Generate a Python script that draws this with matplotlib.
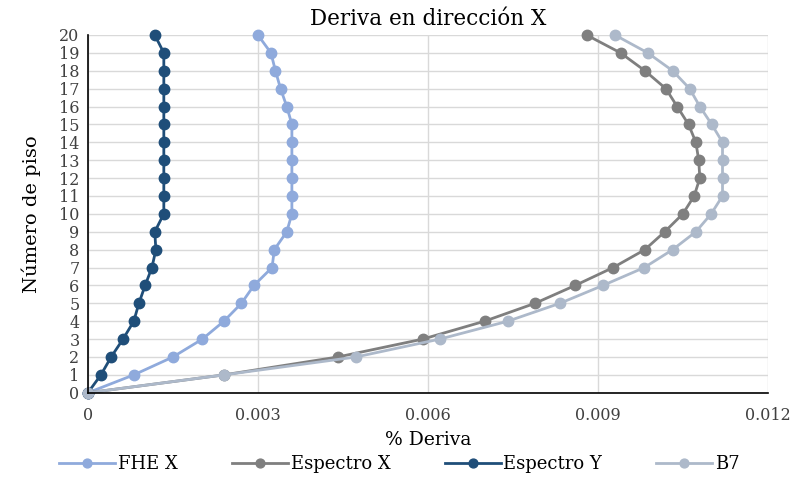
import numpy as np
import matplotlib.pyplot as plt

plt.rcParams['font.family'] = ['DejaVu Serif']

pisos = np.arange(0, 21)

# deriva por piso, piso 0 a 20
fhe_x = [0, 0.00081, 0.00150, 0.00202, 0.00240, 0.00271, 0.00293, 0.00325, 0.00329, 0.00351,
         0.00360, 0.00360, 0.00360, 0.00360, 0.00360, 0.00360, 0.00351, 0.00340, 0.00331, 0.00323, 0.00300]
espectro_x = [0, 0.00240, 0.00441, 0.00591, 0.00700, 0.00789, 0.00860, 0.00927, 0.00983, 0.01018,
              0.01050, 0.01070, 0.01080, 0.01078, 0.01073, 0.01060, 0.01040, 0.01020, 0.00983, 0.00940, 0.00880]
espectro_y = [0, 0.00023, 0.00041, 0.00062, 0.00081, 0.00090, 0.00101, 0.00113, 0.00120, 0.00118,
              0.00134, 0.00134, 0.00134, 0.00134, 0.00134, 0.00134, 0.00134, 0.00134, 0.00134, 0.00134, 0.00118]
b7 = [0, 0.00240, 0.00473, 0.00621, 0.00741, 0.00833, 0.00909, 0.00982, 0.01032, 0.01073,
      0.01100, 0.01120, 0.01120, 0.01120, 0.01120, 0.01101, 0.01080, 0.01062, 0.01032, 0.00988, 0.00930]

series = [
    ("FHE X", fhe_x, "#8faadc"),
    ("Espectro X", espectro_x, "#7f7f7f"),
    ("Espectro Y", espectro_y, "#1f4e79"),
    ("B7", b7, "#adb9ca"),
]

fig = plt.figure(figsize=(7.99, 4.79), dpi=100)
ax = fig.add_axes([0.110, 0.180, 0.851, 0.747])

for name, vals, col in series:
    ax.plot(vals, pisos, color=col, lw=2.0, marker='o', ms=7.5, label=name, clip_on=False)

ax.set_xlim(0, 0.012)
ax.set_ylim(0, 20)
ax.set_xticks([0, 0.003, 0.006, 0.009, 0.012])
ax.set_xticklabels(["0", "0.003", "0.006", "0.009", "0.012"])
ax.set_yticks(pisos)
ax.grid(True, color="#d9d9d9", lw=1.0)
ax.set_axisbelow(True)
for s in ["top", "right"]:
    ax.spines[s].set_visible(False)
for s in ["left", "bottom"]:
    ax.spines[s].set_color("black")
    ax.spines[s].set_linewidth(1.2)
ax.tick_params(length=0, labelsize=11.5, colors="#404040")
ax.tick_params(axis='x', pad=10)
ax.tick_params(axis='y', pad=6)

ax.set_title("Deriva en dirección X", fontsize=15.5, pad=7)
ax.set_xlabel("% Deriva", fontsize=13.5, labelpad=5)
ax.set_ylabel("Número de piso", fontsize=14, labelpad=13)

fig.legend(loc="lower center", ncol=4, bbox_to_anchor=(0.5, -0.022), frameon=False,
           fontsize=13, handlelength=3.1, columnspacing=3.0, handletextpad=0.15, markerscale=0.85)

fig.savefig("out.png", dpi=100)
